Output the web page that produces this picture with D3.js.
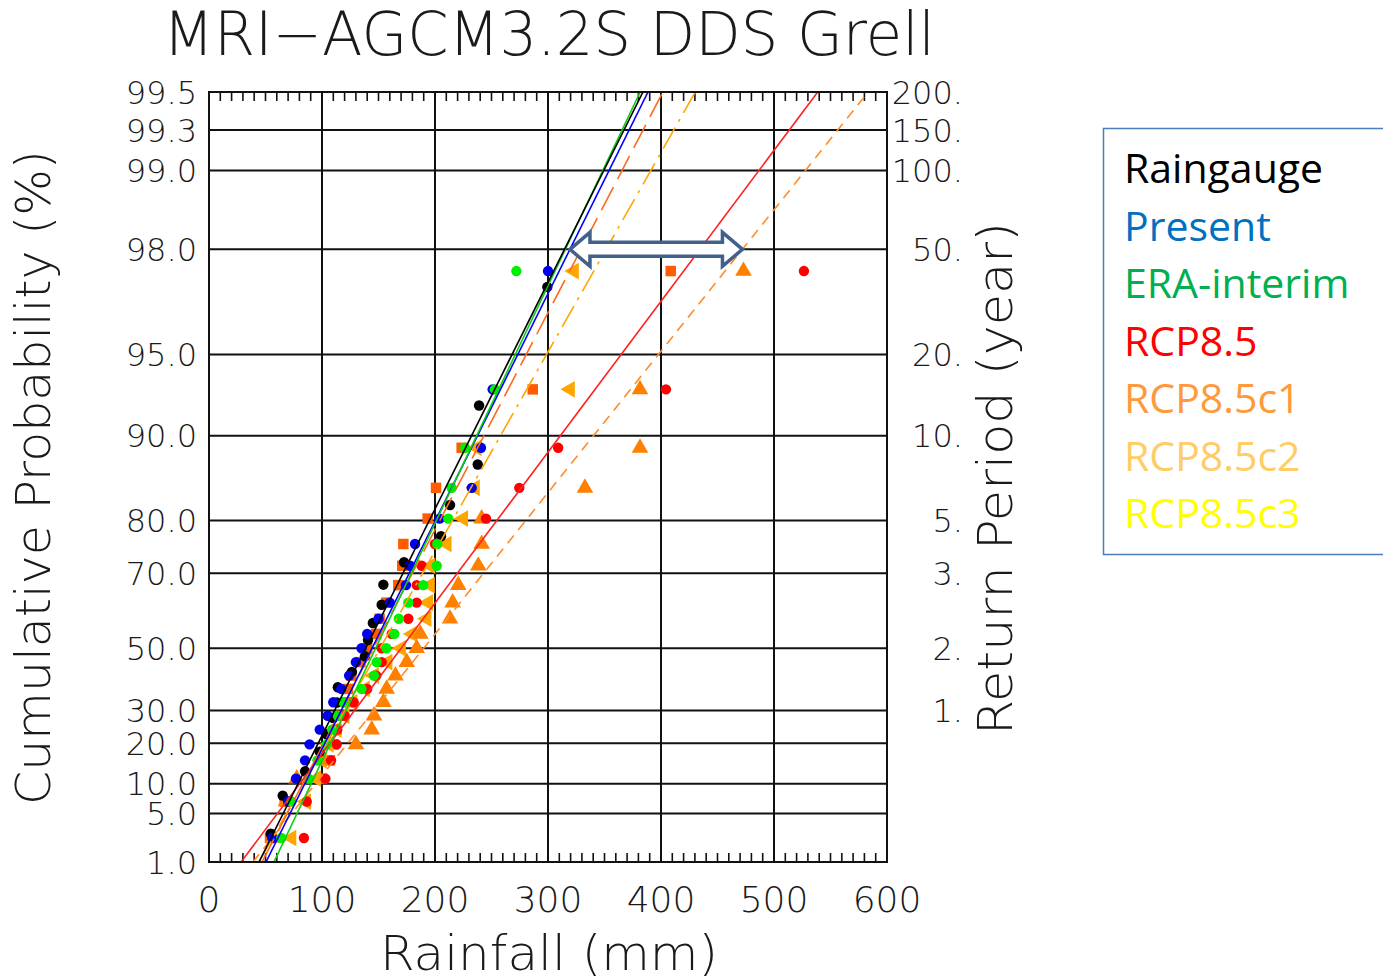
<!DOCTYPE html>
<html lang="en">
<head>
<meta charset="utf-8">
<title>MRI-AGCM3.2S DDS Grell</title>
<script src="https://d3js.org/d3.v7.min.js"></script>
<style>
	body { margin: 0; background: #fff; }
	svg { display: block; }
	.thin { font-family: "DejaVu Sans", sans-serif; font-weight: 200; fill: #1a1a1a; }
	.legend text { font-family: "Open Sans", sans-serif; font-size: 41px; }
</style>
</head>
<body>
<div id="chart"></div>
<script>
	// annual maximum rainfall (mm), sorted ascending
	var raingauge = [54.6, 65.2, 85, 98, 104, 110, 113.3, 114, 126.5, 138, 140.7, 145, 152.8, 154.3, 172.6, 205.3, 213.3, 237.8, 239, 299.4];
	var present   = [56, 70, 77, 85, 89, 98, 105, 110, 117, 124, 130, 135, 140, 150, 160, 174.3, 177.9, 182.3, 204, 232.5, 240.7, 251, 300];
	var eraInterim = [64, 73, 88, 96, 104, 109, 114, 119, 135, 146, 148.4, 157, 164, 168, 176.4, 189.6, 201.5, 202, 211.8, 214.8, 226.5, 253, 272];
	var rcp85     = [84, 86.5, 103, 108, 113, 113.5, 120, 128, 140, 148, 152.8, 152.8, 161.7, 176.4, 183.8, 183.8, 188.2, 200, 245.1, 274.6, 309, 404.4, 526.5];
	var rcp85c1   = [54, 67, 100, 107, 110, 113, 117, 122, 123, 126, 134, 140, 148, 151, 157, 167.5, 171, 172, 193.5, 200.9, 223.6, 286.5, 408.6];
	var rcp85c2   = [73, 86, 95, 100, 106, 113, 120, 127, 138, 146, 158, 170, 180, 192.6, 194, 195.6, 196, 210.4, 225, 235.4, 237, 319.5, 323];
	var rcp85c3   = [57, 68, 77.6, 100, 130, 144, 146, 154.3, 157.2, 165, 175, 183.8, 187, 213.3, 215.6, 220.6, 238.3, 241.3, 241.3, 332.7, 381.4, 381.4, 473];

	// plotting positions (cumulative probability, %)
	var probN20 = [2.78, 7.75, 12.72, 17.69, 22.66, 27.63, 32.60, 37.57, 42.54, 47.51, 52.49, 57.46, 62.43, 67.40, 72.37, 77.34, 82.31, 87.28, 92.25, 97.22];
	var probN23 = [2.42, 6.75, 11.07, 15.40, 19.72, 24.05, 28.37, 32.70, 37.02, 41.35, 45.67, 50.00, 54.33, 58.65, 62.98, 67.30, 71.63, 75.95, 80.28, 84.60, 88.93, 93.25, 97.58];

	// Gumbel fit per series: location and scale (mm)
	var seriesNames = ["Raingauge", "Present", "ERA-interim", "RCP8.5", "RCP8.5c1", "RCP8.5c2", "RCP8.5c3"];
	var fitLocation = [120.3, 126.1, 130.0, 142.6, 126.3, 130.6, 160.7];
	var fitScale    = [49.8, 49.55, 47.5, 74.8, 52.0, 56.6, 79.8];

	// axes
	var probTicks = [99.5, 99.3, 99.0, 98.0, 95.0, 90.0, 80.0, 70.0, 50.0, 30.0, 20.0, 10.0, 5.0, 1.0];
	var returnTicks = ["200.", "150.", "100.", "50.", "20.", "10.", "5.", "3.", "2.", "1."];
	var rainTicks = [0, 100, 200, 300, 400, 500, 600];

	var values = [raingauge, present, eraInterim, rcp85, rcp85c1, rcp85c2, rcp85c3];
	var probs = [probN20, probN23, probN23, probN23, probN23, probN23, probN23];

	// styles
	var markColor = ["#000000", "#0000ee", "#00ee00", "#ff0000", "#ff5c00", "#ffa500", "#ff8000"];
	var lineColor = ["#000000", "#0000ff", "#11cc11", "#ff2020", "#ff6a1a", "#ffa500", "#ff8c2a"];
	var lineDash  = [null, null, null, null, "26,9", "24,7,3,7", "10,7"];
	var symbols   = ["circle", "circle", "circle", "circle", "square", "left", "up"];
	var legendColor = ["#000000", "#0070c0", "#00b050", "#ff0000", "#ff9a3c", "#ffcc66", "#ffff00"];

	var W = 1383, H = 980;
	var margin = {top: 92, left: 209},
		width = 678,
		height = 770;

	var gumbel = function(p) { return -Math.log(-Math.log(p)); };

	var svg = d3.select("#chart").append("svg")
		.attr("width", W)
		.attr("height", H);

	var g = svg.append("g")
		.attr("transform", "translate(" + margin.left + "," + margin.top + ")");

	var x = d3.scaleLinear().domain([0, 600]).range([0, width]);
	var y = d3.scaleLinear().domain([gumbel(0.01), gumbel(0.995)]).range([height, 0]);

	// grid
	g.selectAll(".hgrid").data(probTicks).enter().append("line")
		.attr("x1", 0).attr("x2", width)
		.attr("y1", function(d) { return y(gumbel(d / 100)); })
		.attr("y2", function(d) { return y(gumbel(d / 100)); })
		.attr("stroke", "#111").attr("stroke-width", 2);
	g.selectAll(".vgrid").data(rainTicks).enter().append("line")
		.attr("x1", function(d) { return x(d); }).attr("x2", function(d) { return x(d); })
		.attr("y1", 0).attr("y2", height)
		.attr("stroke", "#111").attr("stroke-width", 2);

	// minor ticks top and bottom
	var minor = d3.range(0, 601, 10);
	g.selectAll(".mtb").data(minor).enter().append("line")
		.attr("x1", function(d) { return x(d); }).attr("x2", function(d) { return x(d); })
		.attr("y1", height).attr("y2", height - 9)
		.attr("stroke", "#111").attr("stroke-width", 1.6);
	g.selectAll(".mtt").data(minor).enter().append("line")
		.attr("x1", function(d) { return x(d); }).attr("x2", function(d) { return x(d); })
		.attr("y1", 0).attr("y2", 9)
		.attr("stroke", "#111").attr("stroke-width", 1.6);

	// tick labels
	g.selectAll(".ylab").data(probTicks).enter().append("text")
		.attr("class", "thin")
		.attr("x", -12)
		.attr("y", function(d) { return y(gumbel(d / 100)); })
		.attr("dy", "0.36em")
		.attr("text-anchor", "end")
		.attr("font-size", 32)
		.text(function(d) { return d.toFixed(1); });
	g.selectAll(".rlab").data(returnTicks).enter().append("text")
		.attr("class", "thin")
		.attr("x", width + 76)
		.attr("y", function(d, i) { return y(gumbel(probTicks[i] / 100)); })
		.attr("dy", "0.36em")
		.attr("text-anchor", "end")
		.attr("font-size", 32)
		.text(function(d) { return d; });
	g.selectAll(".xlab").data(rainTicks).enter().append("text")
		.attr("class", "thin")
		.attr("x", function(d) { return x(d); })
		.attr("y", height + 50)
		.attr("text-anchor", "middle")
		.attr("font-size", 36)
		.text(function(d) { return d; });

	// points
	var symType = {
		circle: d3.symbol().type(d3.symbolCircle).size(85),
		square: d3.symbol().type(d3.symbolSquare).size(110),
		left: d3.symbol().type(d3.symbolTriangle).size(120),
		up: d3.symbol().type(d3.symbolTriangle).size(120)
	};
	var order = [4, 5, 6, 3, 0, 1, 2];
	order.forEach(function(s) {
		g.selectAll(".pt" + s).data(values[s]).enter().append("path")
			.attr("d", symType[symbols[s]]())
			.attr("fill", markColor[s])
			.attr("transform", function(d, i) {
				var t = "translate(" + x(d) + "," + y(gumbel(probs[s][i] / 100)) + ")";
				return symbols[s] == "left" ? t + " rotate(-90)" : t;
			});
	});

	// fitted lines
	svg.append("clipPath").attr("id", "plotclip")
		.append("rect").attr("width", width).attr("height", height);
	var yr = y.domain();
	var line = d3.line()
		.x(function(d) { return x(d[0]); })
		.y(function(d) { return y(d[1]); });
	var lines = g.append("g").attr("clip-path", "url(#plotclip)");
	[5, 6, 4, 3, 1, 2, 0].forEach(function(s) {
		var pts = yr.map(function(v) { return [fitLocation[s] + fitScale[s] * v, v]; });
		lines.append("path")
			.attr("d", line(pts))
			.attr("fill", "none")
			.attr("stroke", lineColor[s])
			.attr("stroke-width", 1.6)
			.attr("stroke-dasharray", lineDash[s]);
	});

	// frame
	g.append("rect").attr("width", width).attr("height", height)
		.attr("fill", "none").attr("stroke", "#111").attr("stroke-width", 2);

	// double arrow: 50-year level, Present vs RCP8.5c3
	var y50 = gumbel(0.98);
	var xa = x(fitLocation[1] + fitScale[1] * y50),
		xb = x(fitLocation[6] + fitScale[6] * y50),
		ya = y(y50);
	var hw = 17, sw = 7, hl = 20;
	var arrow = [
		[xa, ya], [xa + hl, ya - hw], [xa + hl, ya - sw], [xb - hl, ya - sw], [xb - hl, ya - hw],
		[xb, ya], [xb - hl, ya + hw], [xb - hl, ya + sw], [xa + hl, ya + sw], [xa + hl, ya + hw]
	];
	g.append("path")
		.attr("d", "M" + arrow.join("L") + "Z")
		.attr("fill", "#fff")
		.attr("stroke", "#41608a")
		.attr("stroke-width", 3.5)
		.attr("stroke-linejoin", "miter");

	// titles
	svg.append("text").attr("class", "thin")
		.attr("x", 163).attr("y", 55)
		.attr("font-size", 60)
		.attr("textLength", 772).attr("lengthAdjust", "spacingAndGlyphs")
		.text("MRI\u2212AGCM3.2S DDS Grell");
	svg.append("text").attr("class", "thin")
		.attr("x", 380).attr("y", 970)
		.attr("font-size", 48)
		.attr("textLength", 338).attr("lengthAdjust", "spacingAndGlyphs")
		.text("Rainfall (mm)");
	svg.append("text").attr("class", "thin")
		.attr("transform", "translate(50,805) rotate(-90)")
		.attr("font-size", 48)
		.attr("textLength", 655).attr("lengthAdjust", "spacingAndGlyphs")
		.text("Cumulative Probability (%)");
	svg.append("text").attr("class", "thin")
		.attr("transform", "translate(1012,735) rotate(-90)")
		.attr("font-size", 48)
		.attr("textLength", 513).attr("lengthAdjust", "spacingAndGlyphs")
		.text("Return Period (year)");

	// legend
	var legend = svg.append("g").attr("class", "legend");
	legend.append("rect")
		.attr("x", 1103.5).attr("y", 128.5)
		.attr("width", 300).attr("height", 426)
		.attr("fill", "#fff").attr("stroke", "#4a7ebb").attr("stroke-width", 1.5);
	legend.selectAll("text").data(seriesNames).enter().append("text")
		.attr("x", 1124)
		.attr("y", function(d, i) { return 183 + i * 57.5; })
		.attr("fill", function(d, i) { return legendColor[i]; })
		.text(function(d) { return d; });
</script>
</body>
</html>
